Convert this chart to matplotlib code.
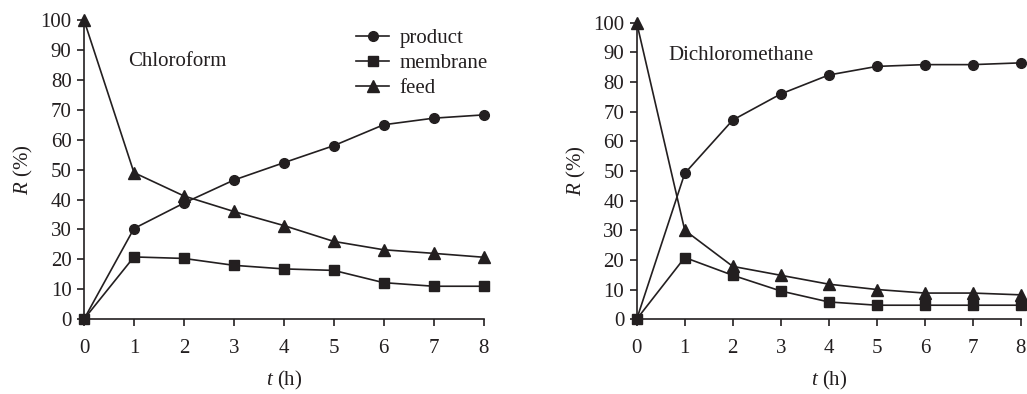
import matplotlib
matplotlib.use("Agg")
import matplotlib.pyplot as plt

plt.rcParams['font.family'] = ['Liberation Serif', 'DejaVu Serif']
plt.rcParams['mathtext.fontset'] = 'custom'
plt.rcParams['mathtext.rm'] = 'Liberation Serif'
plt.rcParams['mathtext.it'] = 'Liberation Serif:italic'

# time (h)
t = [0, 1, 2, 3, 4, 5, 6, 7, 8]

# recovery R (%) -- chloroform
chl_product = [0, 30.3, 38.8, 46.5, 52.3, 58.0, 65.0, 67.2, 68.3]
chl_membrane = [0, 20.8, 20.3, 18.0, 16.8, 16.3, 12.2, 11.0, 11.0]
chl_feed = [100, 49.0, 41.2, 36.0, 31.3, 26.0, 23.2, 22.0, 20.7]

# recovery R (%) -- dichloromethane
dcm_product = [0, 49.2, 67.2, 76.0, 82.4, 85.3, 85.9, 85.9, 86.5]
dcm_membrane = [0, 20.8, 14.8, 9.5, 5.8, 4.7, 4.7, 4.7, 4.7]
dcm_feed = [100, 30.0, 17.8, 14.8, 11.8, 10.0, 8.8, 8.8, 8.2]

fs = 15
fig = plt.figure(figsize=(10.27, 3.94), dpi=100)
ax1 = fig.add_axes([0.0818, 0.190, 0.389, 0.759])
ax2 = fig.add_axes([0.620, 0.190, 0.374, 0.752])


def draw(ax, product, membrane, feed, name, name_xy):
    kw = dict(color='#231f20', lw=1.2, clip_on=False, zorder=3)
    ax.plot(t, product, marker='o', ms=7, label='product', **kw)
    ax.plot(t, membrane, marker='s', ms=7, label='membrane', **kw)
    ax.plot(t, feed, marker='^', ms=8, label='feed', **kw)
    ax.set_xlim(0, 8)
    ax.set_ylim(0, 100)
    ax.set_xticks(t)
    ax.set_yticks(range(0, 101, 10))
    for s in ['top', 'right']:
        ax.spines[s].set_visible(False)
    for s in ['left', 'bottom']:
        ax.spines[s].set_linewidth(1.2)
        ax.spines[s].set_color('#231f20')
    ax.tick_params(axis='x', length=5, width=1.2, pad=9, labelsize=fs,
                   color='#231f20', labelcolor='#231f20')
    ax.tick_params(axis='y', length=5, width=1.2, pad=4, labelsize=fs,
                   color='#231f20', labelcolor='#231f20')
    ax.set_xlabel(r'$\mathit{t}$ (h)', fontsize=fs, labelpad=8, color='#231f20')
    ax.set_ylabel(r'$\mathit{R}$ (%)', fontsize=fs, labelpad=4, color='#231f20')
    ax.text(name_xy[0], name_xy[1], name, transform=ax.transAxes,
            fontsize=fs, va='center', ha='left', color='#231f20')


draw(ax1, chl_product, chl_membrane, chl_feed, 'Chloroform', (0.11, 0.86))
draw(ax2, dcm_product, dcm_membrane, dcm_feed, 'Dichloromethane', (0.083, 0.89))

ax1.legend(loc='upper left', bbox_to_anchor=(0.66, 1.0), frameon=False,
           fontsize=fs, handlelength=1.6, handletextpad=0.5,
           labelspacing=0.27, borderaxespad=0, labelcolor='#231f20')

fig.savefig('out.png', dpi=100)
